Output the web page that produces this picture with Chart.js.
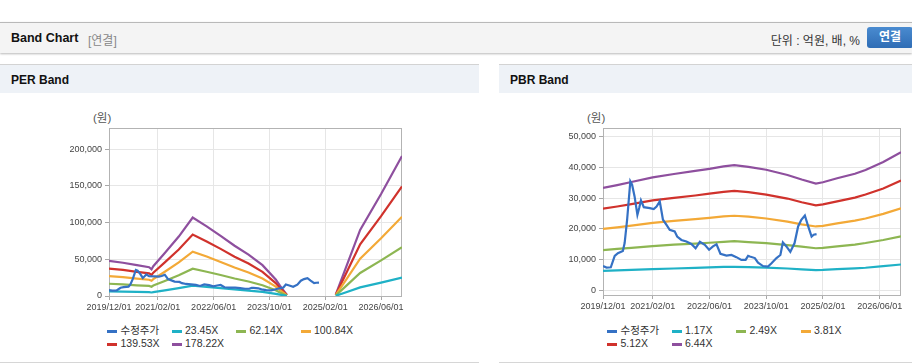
<!DOCTYPE html>
<html lang="ko">
<head>
<meta charset="utf-8">
<title>Band Chart</title>
<script src="https://cdn.jsdelivr.net/npm/chart.js@4.4.1/dist/chart.umd.min.js"></script>
<style>
  body { margin: 0; width: 912px; height: 364px; overflow: hidden; position: relative; background: #fff;
         font-family: "Liberation Sans", "Noto Sans CJK KR", Arial, sans-serif; color: #222; }
  .topbar { position: absolute; left: 0; top: 22px; width: 912px; height: 30px; background: #f4f4f4;
            border-top: 1px solid #b9b9b9; box-shadow: 0 1px 2px rgba(0,0,0,.28); }
  .topbar .title { position: absolute; left: 11px; top: 8px; font-size: 12.5px; font-weight: bold; color: #111; }
  .topbar .sub { position: absolute; left: 88px; top: 8px; font-size: 12px; color: #888; }
  .topbar .unit { position: absolute; right: 52px; top: 8px; font-size: 12px; color: #333; }
  .topbar .btn { position: absolute; left: 867px; top: 4px; width: 46px; height: 21px; border-radius: 3px;
                 background: linear-gradient(#4a8bd0, #2f6db5); color: #fff; font-size: 12px; font-weight: bold;
                 text-align: center; line-height: 21px; }
  .panel { position: absolute; top: 64px; width: 479px; height: 297px; border-top: 1px solid #d3d3d3;
           border-bottom: 1px solid #d6d6d6; }
  .panel .head { height: 28px; background: #eef2f7; font-size: 12px; font-weight: bold; color: #111;
                 line-height: 30px; padding-left: 11px; }
  .unitlabel { position: absolute; font-size: 11.5px; color: #555; }
  canvas { position: absolute; }
  .legend { position: absolute; width: 260px; font-size: 10.5px; color: #333; line-height: 13.3px; }
  .lg-item { display: inline-block; width: 64.5px; white-space: nowrap; }
  .lg-item i { display: inline-block; width: 10px; height: 3px; margin-right: 3.5px; vertical-align: middle; }
</style>
</head>
<body>
<div class="topbar">
  <span class="title">Band Chart</span><span class="sub">[연결]</span>
  <span class="unit">단위 : 억원, 배, %</span>
  <span class="btn">연결</span>
</div>

<div class="panel" style="left:0">
  <div class="head">PER Band</div>
</div>
<div class="panel" style="left:499px">
  <div class="head">PBR Band</div>
</div>

<span class="unitlabel" style="left:93px; top:109px">(원)</span>
<span class="unitlabel" style="left:587px; top:109px">(원)</span>
<canvas id="perChart" width="479" height="227" style="left:0; top:93px"></canvas>
<canvas id="pbrChart" width="413" height="227" style="left:499px; top:93px"></canvas>
<div class="legend" id="perLegend" style="left:107px; top:324px"></div>
<div class="legend" id="pbrLegend" style="left:607px; top:324px"></div>

<script>
// x축: 2019/12 = 0 (월 단위)
const xTickMonths = [0, 14, 30, 46, 62, 78];
const xTickLabels = ['2019/12/01', '2021/02/01', '2022/06/01', '2023/10/01', '2025/02/01', '2026/06/01'];

// 수정주가
const priceMonths = [0, 1, 2.2, 3.3, 4.2, 5.6, 6.1, 6.8, 7.7, 8.2, 8.9, 9.7, 10.2, 10.7, 11.5, 13.2, 14.3, 15.1, 16, 16.5,
  16.9, 17.9, 18.8, 20.2, 20.9, 22.1, 23.5, 24.9, 26.1, 27.3, 28.7, 29.9, 31, 32, 33.1, 34.8, 36.2, 37.6, 39, 40.2,
  40.9, 41.4, 42.8, 43.7, 45.1, 46.5, 47.5, 48.9, 50, 50.7, 51.7, 52.8, 54, 55, 55.9, 56.9, 57.8, 58.8, 59.4, 60.2];
const priceValues = [7900, 7400, 7500, 11200, 12100, 12800, 15400, 23000, 35500, 34400, 30600, 24600, 26800, 29300, 27100, 26800, 26500, 27300, 29000, 25700,
  23000, 21300, 19700, 19200, 17500, 16400, 15900, 15100, 13700, 15800, 14800, 13200, 14300, 15000, 11900, 11300, 11500, 10800, 9900, 9900,
  11200, 11000, 10500, 9000, 7900, 7700, 8800, 10500, 11500, 15600, 14300, 12500, 15400, 20800, 23000, 24400, 21000, 17500, 18100, 18300];

// PER 밴드
const perLabels = ['23.45X', '62.14X', '100.84X', '139.53X', '178.22X'];
const perMonths = [0, 4, 8, 11.5, 12.2, 12.7, 16, 20, 24, 28, 32, 36, 40, 44, 47.8, 49, 51, 58, 65, 68, 72, 78, 84];
const per2345  = [6300, 6000, 5500, 5200, 4800, 5300, 7700, 10700, 14100, 12500, 10800, 9000, 7400, 5500, 3000, 1800, 200, null, 300, 5200, 11800, 18300, 25100];
const per6214  = [16700, 15800, 14600, 13700, 12700, 14200, 20400, 28200, 37300, 33100, 28600, 23900, 19700, 14600, 7800, 4900, 500, null, 700, 13800, 31400, 48500, 66500];
const per10084 = [27000, 25600, 23800, 22200, 20700, 23000, 33100, 45800, 60500, 53800, 46400, 38800, 32000, 23800, 12700, 7900, 850, null, 1100, 22400, 50900, 78600, 108000];
const per13953 = [37400, 35500, 32900, 30800, 28600, 31800, 45800, 63400, 83800, 74400, 64200, 53600, 44200, 32900, 17600, 11000, 1200, null, 1600, 31000, 70500, 108800, 149400];
const per17822 = [47800, 45300, 42000, 39300, 36500, 40600, 58500, 81000, 107000, 95000, 82000, 68500, 56500, 42000, 22500, 14000, 1500, null, 2000, 39600, 90000, 139000, 190800];
const perYTicks = [0, 50000, 100000, 150000, 200000];

// PBR 밴드
const pbrLabels = ['1.17X', '2.49X', '3.81X', '5.12X', '6.44X'];
const pbrMonths = [0, 4, 8, 14, 20, 26, 30, 34, 37, 41, 46, 52, 56, 60, 62, 66, 71, 74, 79, 84];
const pbr117 = [6300, 6500, 6650, 6900, 7100, 7300, 7450, 7600, 7650, 7550, 7400, 7100, 6800, 6600, 6650, 6900, 7150, 7350, 7850, 8400];
const pbr249 = [13100, 13500, 13800, 14400, 14900, 15200, 15500, 15800, 16000, 15700, 15400, 14700, 14200, 13700, 13800, 14300, 14900, 15400, 16400, 17600];
const pbr381 = [20000, 20500, 21100, 22000, 22600, 23200, 23600, 24100, 24300, 24000, 23400, 22400, 21500, 20800, 21000, 21800, 22700, 23400, 24900, 26700];
const pbr512 = [26600, 27300, 28100, 29300, 30100, 30900, 31500, 32100, 32400, 32000, 31200, 29900, 28700, 27700, 28000, 29000, 30200, 31200, 33200, 35800];
const pbr644 = [33400, 34300, 35300, 36800, 37900, 38900, 39600, 40400, 40800, 40200, 39300, 37600, 36100, 34800, 35200, 36500, 38000, 39200, 41800, 45000];
const pbrYTicks = [0, 10000, 20000, 30000, 40000, 50000];

const priceColor = '#3571c4';
const bandColors = ['#1fb1c6', '#8db652', '#f3a937', '#d0322c', '#8e4f9e'];
const tickFont = { family: '"Liberation Sans", Arial, sans-serif', size: 9 };

// 차트 영역 테두리
const plotFrame = {
    id: 'plotFrame',
    beforeDatasetsDraw(chart) {
        const a = chart.chartArea, ctx = chart.ctx;
        ctx.save();
        ctx.strokeStyle = '#b3b3b3';
        ctx.lineWidth = 1;
        ctx.strokeRect(Math.round(a.left) + 0.5, Math.round(a.top) + 0.5,
            Math.round(a.right - a.left) - 1, Math.round(a.bottom - a.top));
        ctx.restore();
    }
};

function toPoints(xs, ys) {
    return xs.map((x, i) => ({ x: x, y: ys[i] }));
}

function makeBandChart(canvasId, legendId, bandMonths, bands, labels, yTicks, yMin, yMax, yWidth, pad) {
    const datasets = [{ label: '수정주가', data: toPoints(priceMonths, priceValues), borderColor: priceColor }];
    bands.forEach((b, i) => {
        datasets.push({ label: labels[i], data: toPoints(bandMonths, b), borderColor: bandColors[i] });
    });
    datasets.forEach(ds => {
        ds.borderWidth = 2.2;
        ds.pointRadius = 0;
        ds.tension = 0;
        ds.fill = false;
        ds.spanGaps = false;
    });

    new Chart(document.getElementById(canvasId), {
        type: 'line',
        data: { datasets: datasets },
        options: {
            responsive: false,
            animation: false,
            layout: { padding: pad },
            plugins: { legend: { display: false }, tooltip: { enabled: false } },
            scales: {
                x: {
                    type: 'linear', min: 0, max: 84,
                    afterBuildTicks: s => { s.ticks = xTickMonths.map(v => ({ value: v })); },
                    afterFit: s => { s.height = 20; },
                    ticks: {
                        autoSkip: false, maxRotation: 0, padding: 2, color: '#444', font: tickFont,
                        callback: v => xTickLabels[xTickMonths.indexOf(v)]
                    },
                    grid: { color: '#e6e6e6', tickLength: 4, tickColor: '#a8a8a8' },
                    border: { display: false }
                },
                y: {
                    min: yMin, max: yMax,
                    afterBuildTicks: s => { s.ticks = yTicks.map(v => ({ value: v })); },
                    afterFit: s => { s.width = yWidth; },
                    ticks: {
                        padding: 3, color: '#444', font: tickFont,
                        callback: v => v.toLocaleString('en-US')
                    },
                    grid: { color: '#e6e6e6', tickLength: 4, tickColor: '#a8a8a8' },
                    border: { display: false }
                }
            }
        },
        plugins: [plotFrame]
    });

    // 범례
    const lg = document.getElementById(legendId);
    datasets.forEach(ds => {
        const item = document.createElement('span');
        item.className = 'lg-item';
        item.innerHTML = '<i style="background:' + ds.borderColor + '"></i>' + ds.label;
        lg.appendChild(item);
    });
}

makeBandChart('perChart', 'perLegend', perMonths, [per2345, per6214, per10084, per13953, per17822], perLabels,
    perYTicks, 0, 229000, 109, { left: 0, top: 35, right: 77, bottom: 4 });
makeBandChart('pbrChart', 'pbrLegend', pbrMonths, [pbr117, pbr249, pbr381, pbr512, pbr644], pbrLabels,
    pbrYTicks, -1540, 52900, 104, { left: 0, top: 35, right: 11, bottom: 5 });
</script>
</body>
</html>
